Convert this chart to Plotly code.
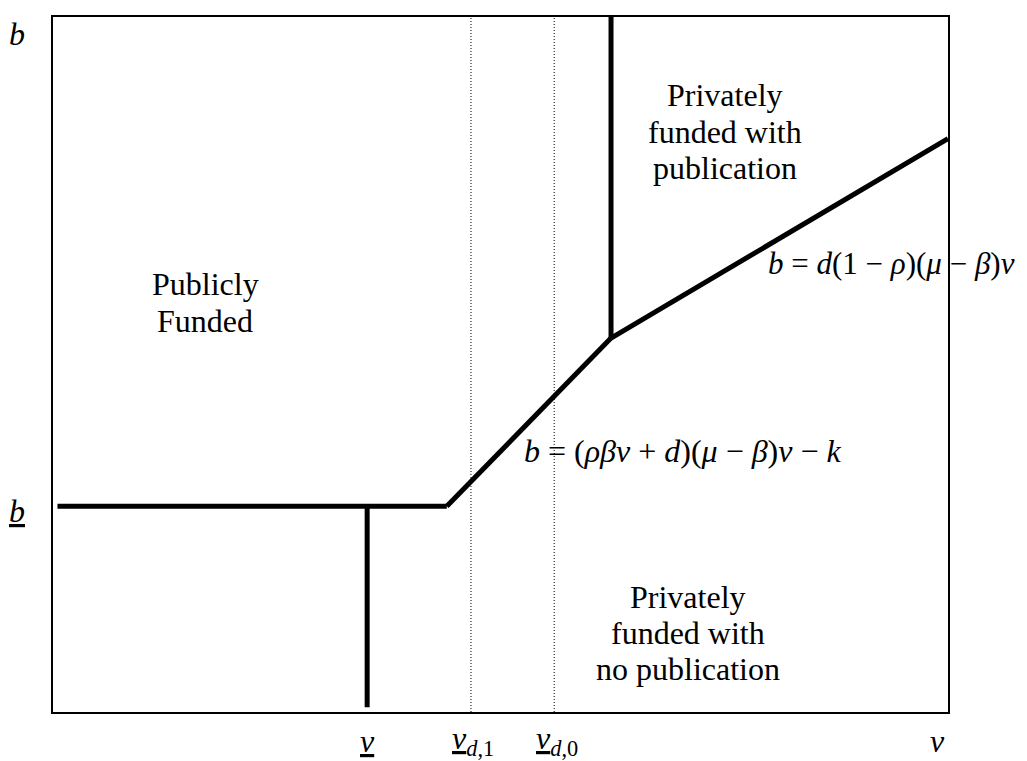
import plotly.graph_objects as go

# ---- data (axis units 0..100) ----
floor_x = [0.5, 44.0]
floor_y = [29.6, 29.6]
vlow_x = [35.1, 35.1]
vlow_y = [29.6, 0.7]
slope1_x = [44.0, 62.35]
slope1_y = [29.6, 53.8]
vert_x = [62.35, 62.35]
vert_y = [53.8, 100.0]
slope2_x = [62.35, 100.0]
slope2_y = [53.8, 82.5]
dot1_x = [46.7, 46.7]
dot2_x = [56.0, 56.0]
dot_y = [0.0, 100.0]

# page layout (browser body has an 8px margin)
OFF = 8
PX0, PX1, PY0, PY1 = 53, 948, 15, 712  # plot area on the page
W, H = 1027 - OFF, 761 - OFF
L, T = PX0 - OFF, PY0 - OFF
R = W - (PX1 - OFF)
B = H - (PY1 - OFF)


def px(xp):
    return (xp - PX0) / (PX1 - PX0)


def py(yp):
    return (PY1 - yp) / (PY1 - PY0)


FONT = "Liberation Serif, Times New Roman, serif"
FS = 32

fig = go.Figure()
thick = dict(color="black", width=5)
for xs, ys in [(floor_x, floor_y), (vlow_x, vlow_y), (slope1_x, slope1_y),
               (vert_x, vert_y), (slope2_x, slope2_y)]:
    fig.add_trace(go.Scatter(x=xs, y=ys, mode="lines", line=thick,
                             hoverinfo="skip", showlegend=False))
for xs in [dot1_x, dot2_x]:
    fig.add_trace(go.Scatter(x=xs, y=dot_y, mode="lines",
                             line=dict(color="black", width=1, dash="1px,2px"),
                             hoverinfo="skip", showlegend=False))

ann = []


def add(text, x, y, xanchor="center", size=FS):
    ann.append(dict(text=text, x=px(x), y=py(y), xref="paper", yref="paper",
                    xanchor=xanchor, yanchor="middle", showarrow=False,
                    font=dict(family=FONT, size=size, color="black")))


add("Publicly", 205, 283)
add("Funded", 205, 320)
add("Privately", 725, 93)
add("funded with", 725, 130)
add("publication", 725, 166)
add("Privately", 688, 597)
add("funded with", 688, 633)
add("no publication", 688, 669)
add("<i>b</i> = <i>d</i>(1 − <i>ρ</i>)(<i>μ</i> − <i>β</i>)<i>v</i>", 766, 262, "left", 31)
add("<i>b</i> = (<i>ρβv</i> + <i>d</i>)(<i>μ</i> − <i>β</i>)<i>v</i> − <i>k</i>", 522, 450, "left")
add("<i>b</i>", 17, 32)
add("<u><i>b</i></u>", 17, 510)
add("<u><i>v</i></u>", 367, 741)
add("<u><i>v</i></u><sub><i>d</i>,1</sub>", 473, 741)
add("<u><i>v</i></u><sub><i>d</i>,0</sub>", 557, 741)
add("<i>v</i>", 937, 741)

axis = dict(range=[0, 100], showgrid=False, zeroline=False, showticklabels=False,
            ticks="", showline=True, linecolor="black", linewidth=2, mirror=True,
            fixedrange=True)
fig.update_layout(
    width=W, height=H,
    margin=dict(l=L, r=R, t=T, b=B, pad=0),
    plot_bgcolor="white", paper_bgcolor="white",
    xaxis=axis, yaxis=axis,
    annotations=ann,
    showlegend=False,
)
fig.write_html("out.html", config={"displayModeBar": False})
